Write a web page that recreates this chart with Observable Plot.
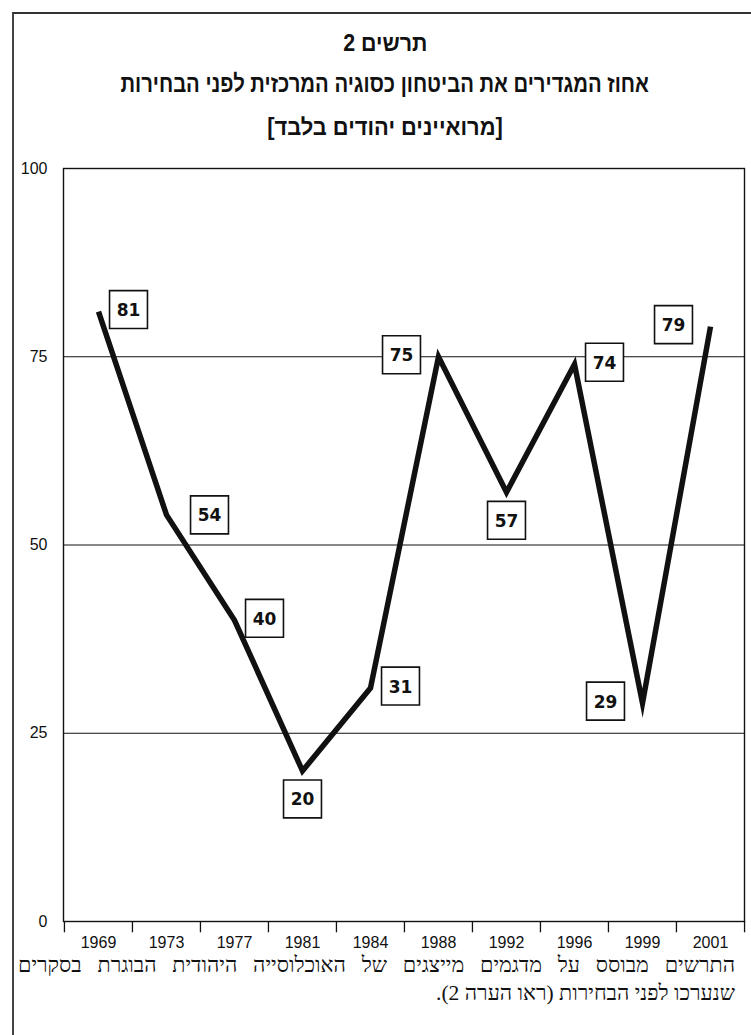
<!DOCTYPE html>
<html lang="he">
<head>
<meta charset="utf-8">
<script src="https://cdn.jsdelivr.net/npm/d3@7"></script>
<script src="https://cdn.jsdelivr.net/npm/@observablehq/plot@0.6"></script>
<style>
  html, body { margin: 0; padding: 0; background: #fff; }
  #page { position: relative; width: 751px; height: 1035px; overflow: hidden; background: #fff; }
  #border { position: absolute; left: 12px; top: 12px; width: 800px; height: 1100px;
            border-top: 2px solid #333; border-left: 2px solid #444; }
  .t { position: absolute; left: 20px; width: 730px; text-align: center; direction: rtl;
       font-family: "Liberation Sans", "DejaVu Sans", sans-serif; font-weight: bold;
       color: #111; line-height: 26px; white-space: nowrap; z-index: 2; }
  .t span { display: inline-block; }
  #chart { position: absolute; left: 0; top: 0; z-index: 1; }
  .cap { position: absolute; left: 18px; width: 717px; direction: rtl;
         font-family: "Liberation Serif", "DejaVu Serif", serif; font-size: 21.5px;
         color: #111; line-height: 25px; z-index: 2; white-space: nowrap; }
  #cap1 { text-align: justify; text-align-last: justify; white-space: normal; }
  #cap2 { text-align: right; }
</style>
</head>
<body>
<div id="page">
  <div id="border"></div>
  <div id="chart"></div>
  <div class="t" style="top:30px;font-size:23px;"><span id="t0" style="transform:scaleX(0.93);"></span></div>
  <div class="t" style="top:71px;font-size:24px;"><span id="t1" style="transform:scaleX(0.845);"></span></div>
  <div class="t" style="top:114px;font-size:23px;"><span id="t2" style="transform:scaleX(0.95);"></span></div>
  <div class="cap" id="cap1" style="top:953px;"></div>
  <div class="cap" id="cap2" style="top:981px;"></div>
</div>
<script>
// ---- data ----
const years = ["1969", "1973", "1977", "1981", "1984", "1988", "1992", "1996", "1999", "2001"];
const values = [81, 54, 40, 20, 31, 75, 57, 74, 29, 79];
const labelSide = ["right", "farRight", "right", "below", "right", "left", "below", "right", "left", "left"];
const yTicks = [0, 25, 50, 75, 100];
const gridLines = [25, 50, 75];
const titleLines = ["תרשים 2", "אחוז המגדירים את הביטחון כסוגיה המרכזית לפני הבחירות", "[מרואיינים יהודים בלבד]"];
const captionLines = ["התרשים מבוסס על מדגמים מייצגים של האוכלוסייה היהודית הבוגרת בסקרים", "שנערכו לפני הבחירות (ראו הערה 2)."];

// ---- titles / caption ----
document.getElementById("t0").textContent = titleLines[0];
document.getElementById("t1").textContent = titleLines[1];
document.getElementById("t2").textContent = titleLines[2];
document.getElementById("cap1").textContent = captionLines[0];
document.getElementById("cap2").textContent = captionLines[1];

// ---- chart ----
const data = years.map((year, i) => ({year, value: values[i], side: labelSide[i]}));
const W = 751, H = 975;
const mL = 63, mR = 7, mT = 168, mB = H - 921;
const bw = (W - mL - mR) / years.length;
const offsets = {right: [30, -2], farRight: [43, 0], below: [0, 28], left: [-37, -2]};
const labelFont = "DejaVu Sans, Liberation Sans, sans-serif";

const labelMarks = Object.entries(offsets).flatMap(([side, [dx, dy]]) => {
  const sub = data.filter(d => d.side === side);
  return [
    Plot.dot(sub, {x: "year", y: "value", symbol: "square", r: 21.4, fill: "white",
                   stroke: "#111", strokeWidth: 1.6, dx, dy}),
    Plot.text(sub, {x: "year", y: "value", text: d => String(d.value), dx, dy: dy + 1,
                    fontSize: 17, fontWeight: "bold", fontFamily: labelFont, fill: "#111"})
  ];
});

const chart = Plot.plot({
  width: W,
  height: H,
  marginLeft: mL,
  marginRight: mR,
  marginTop: mT,
  marginBottom: mB,
  style: {background: "transparent", fontFamily: "Liberation Sans, Arial, sans-serif", overflow: "visible"},
  x: {type: "band", domain: years, padding: 0, label: null},
  y: {domain: [0, 100], label: null},
  marks: [
    Plot.ruleY(gridLines, {stroke: "#111", strokeWidth: 1}),
    Plot.frame({stroke: "#111", strokeWidth: 1.4}),
    Plot.ruleX(years, {x: d => d, y1: 0, y2: -1.5, dx: -bw / 2, stroke: "#111", strokeWidth: 1.3}),
    Plot.ruleX(years.slice(-1), {x: d => d, y1: 0, y2: -1.5, dx: bw / 2, stroke: "#111", strokeWidth: 1.3}),
    Plot.axisY({ticks: yTicks, tickSize: 0, tickPadding: 16, fontSize: 16, tickFormat: d => String(d), fill: "#111"}),
    Plot.axisX({tickSize: 0, tickPadding: 15, fontSize: 16, fill: "#111"}),
    Plot.line(data, {x: "year", y: "value", stroke: "#111", strokeWidth: 5.5,
                     strokeLinejoin: "miter", strokeMiterlimit: 10, strokeLinecap: "butt"}),
    ...labelMarks
  ]
});
document.getElementById("chart").appendChild(chart);
</script>
</body>
</html>
